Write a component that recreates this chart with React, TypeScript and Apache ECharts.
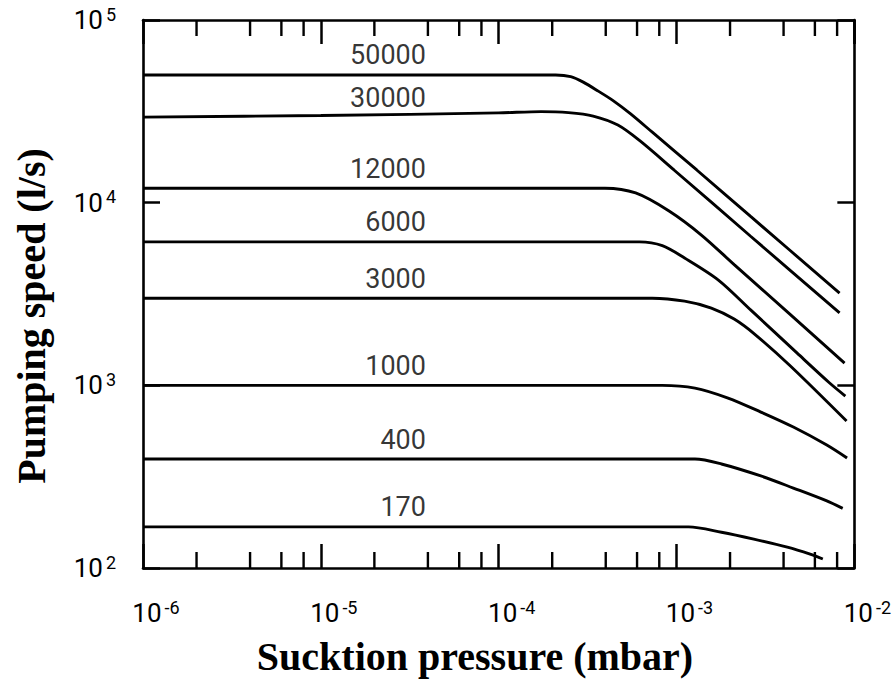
import React, { useEffect, useRef } from 'react';
import * as echarts from 'echarts';

// ---- data (pressure in mbar, pumping speed in l/s) ----
const curveNames = ['50000', '30000', '12000', '6000', '3000', '1000', '400', '170'];

const p50000 = [1e-6, 2.09e-4, 2.54e-4, 2.99e-4, 3.63e-4, 4.4e-4, 5.5e-4, 7.31e-4, 1.3e-3, 2.62e-3, 8.26e-3];
const s50000 = [50000, 50000, 49000, 45700, 40800, 36200, 30700, 24300, 15100, 8380, 3200];

const p30000 = [1e-6, 1e-5, 1e-4, 1.73e-4, 2.47e-4, 3.4e-4, 4.68e-4, 6.19e-4, 9.68e-4, 2.62e-3, 8.26e-3];
const s30000 = [29400, 30000, 31000, 31500, 31100, 29800, 26600, 21900, 15100, 6530, 2490];

const p12000 = [1e-6, 3.96e-4, 5.89e-4, 9.08e-4, 1.38e-3, 2.11e-3, 4.37e-3, 8.81e-3];
const s12000 = [12000, 12000, 11300, 9000, 6650, 4580, 2440, 1324];

const p6000 = [1e-6, 6.19e-4, 8.32e-4, 1.11e-3, 1.72e-3, 2.62e-3, 4.77e-3, 7.26e-3, 8.9e-3];
const s6000 = [6100, 6100, 5820, 4980, 3770, 2580, 1500, 1030, 874];

const p3000 = [1e-6, 7.31e-4, 1.11e-3, 1.57e-3, 2.11e-3, 2.79e-3, 4.37e-3, 9.04e-3];
const s3000 = [3000, 3000, 2890, 2650, 2305, 1885, 1276, 638];

const p1000 = [1e-6, 8.3e-4, 1.27e-3, 1.95e-3, 2.98e-3, 4.54e-3, 7.0e-3, 9.1e-3];
const s1000 = [1000, 1000, 966, 852, 714, 591, 471, 400];

const p400 = [1e-6, 1.27e-3, 1.79e-3, 2.98e-3, 4.54e-3, 7.0e-3, 8.6e-3];
const s400 = [395, 395, 371, 319, 274, 233, 212];

const p170 = [1e-6, 1.17e-3, 1.79e-3, 2.72e-3, 4.2e-3, 5.64e-3, 6.65e-3];
const s170 = [168, 168, 157, 144, 130, 119, 112];

const curvePressures = [p50000, p30000, p12000, p6000, p3000, p1000, p400, p170];
const curveSpeeds = [s50000, s30000, s12000, s6000, s3000, s1000, s400, s170];

const labelPressure = 3.9e-5;

const xMin = 1e-6;
const xMax = 1e-2;
const yMin = 1e2;
const yMax = 1e5;

const xMinorTicks = [
  2e-6, 4e-6, 6e-6, 8e-6,
  2e-5, 4e-5, 6e-5, 8e-5,
  2e-4, 4e-4, 6e-4, 8e-4,
  2e-3, 4e-3, 6e-3, 8e-3,
];

const xAxisName = 'Sucktion pressure (mbar)';
const yAxisName = 'Pumping speed (l/s)';

const tickFont = 'Roboto';
const powerLabel = (v: number) => `{b|10}{s|${Math.round(Math.log10(v))}}`;
const powerRich = {
  b: { fontSize: 26, fontFamily: tickFont, color: '#000', lineHeight: 30 },
  s: { fontSize: 18, fontFamily: tickFont, color: '#000', lineHeight: 18, verticalAlign: 'top', padding: [0, 0, 0, 3] },
};

export default function App() {
  const ref = useRef<HTMLDivElement>(null);

  useEffect(() => {
    if (!ref.current) return;
    const chart = echarts.init(ref.current, undefined, { renderer: 'svg' });

    const axisLine = { show: true, onZero: false, lineStyle: { color: '#000', width: 2.6 } };

    const lineSeries = curveNames.map((name, i) => ({
      type: 'line',
      name,
      xAxisIndex: 0,
      yAxisIndex: 0,
      data: curvePressures[i].map((p, j) => [p, curveSpeeds[i][j]]),
      showSymbol: false,
      symbol: 'none',
      smooth: 0.3,
      silent: true,
      lineStyle: { color: '#000', width: 2.9 },
      z: 3,
    }));

    const labelSeries = {
      type: 'scatter',
      xAxisIndex: 0,
      yAxisIndex: 0,
      symbolSize: 0,
      silent: true,
      data: curveNames.map((name, i) => ({ name, value: [labelPressure, curveSpeeds[i][0]] })),
      label: {
        show: true,
        position: 'top',
        distance: 6,
        align: 'right',
        formatter: '{b}',
        fontSize: 27,
        fontFamily: tickFont,
        color: '#000',
      },
      z: 4,
    };

    const minorTickSeries = {
      type: 'custom',
      xAxisIndex: 0,
      yAxisIndex: 0,
      silent: true,
      data: xMinorTicks.map((v) => [v, yMin]),
      encode: { x: 0, y: 1 },
      renderItem: (_params: any, api: any) => {
        const v = api.value(0);
        const b = api.coord([v, yMin]);
        const t = api.coord([v, yMax]);
        return {
          type: 'group',
          children: [
            { type: 'line', shape: { x1: b[0], y1: b[1], x2: b[0], y2: b[1] - 16 }, style: { stroke: '#000', lineWidth: 2.4 } },
            { type: 'line', shape: { x1: t[0], y1: t[1], x2: t[0], y2: t[1] + 16 }, style: { stroke: '#000', lineWidth: 2.4 } },
          ],
        };
      },
      z: 5,
    };

    chart.setOption({
      animation: false,
      backgroundColor: '#fff',
      grid: { left: 143, right: 29, top: 20, bottom: 123, containLabel: false },
      xAxis: [
        {
          type: 'log', logBase: 10, min: xMin, max: xMax, position: 'bottom', gridIndex: 0,
          axisLine,
          axisTick: { show: true, inside: true, length: 24, lineStyle: { color: '#000', width: 2.5 } },
          splitLine: { show: false },
          minorTick: { show: false },
          axisLabel: { show: true, color: '#000', margin: 30, formatter: powerLabel, rich: powerRich, padding: [0, 0, 0, 26] },
        },
        {
          type: 'log', logBase: 10, min: xMin, max: xMax, position: 'top', gridIndex: 0,
          axisLine,
          axisTick: { show: true, inside: true, length: 24, lineStyle: { color: '#000', width: 2.5 } },
          splitLine: { show: false },
          axisLabel: { show: false },
        },
      ],
      yAxis: [
        {
          type: 'log', logBase: 10, min: yMin, max: yMax, position: 'left', gridIndex: 0,
          axisLine,
          axisTick: { show: true, inside: true, length: 17, lineStyle: { color: '#000', width: 2.5 } },
          splitLine: { show: false },
          axisLabel: { show: true, color: '#000', margin: 27, formatter: powerLabel, rich: powerRich },
        },
        {
          type: 'log', logBase: 10, min: yMin, max: yMax, position: 'right', gridIndex: 0,
          axisLine,
          axisTick: { show: true, inside: true, length: 17, lineStyle: { color: '#000', width: 2.5 } },
          splitLine: { show: false },
          axisLabel: { show: false },
        },
      ],
      graphic: [
        {
          type: 'text',
          x: 475,
          y: 656,
          style: {
            text: xAxisName,
            fontSize: 40,
            fontWeight: 'bold',
            fontFamily: '"Liberation Serif", "Times New Roman", serif',
            fill: '#000',
            align: 'center',
            verticalAlign: 'middle',
            textAlign: 'center',
            textVerticalAlign: 'middle',
          },
        },
        {
          type: 'text',
          x: 31,
          y: 316,
          rotation: Math.PI / 2,
          style: {
            text: yAxisName,
            fontSize: 40,
            fontWeight: 'bold',
            fontFamily: '"Liberation Serif", "Times New Roman", serif',
            fill: '#000',
            align: 'center',
            verticalAlign: 'middle',
            textAlign: 'center',
            textVerticalAlign: 'middle',
          },
        },
      ],
      series: [...lineSeries, labelSeries, minorTickSeries],
    });

    return () => chart.dispose();
  }, []);

  return (
    <div
      ref={ref}
      style={{ position: 'fixed', left: 0, top: 0, width: 894, height: 691, background: '#fff' }}
    />
  );
}
